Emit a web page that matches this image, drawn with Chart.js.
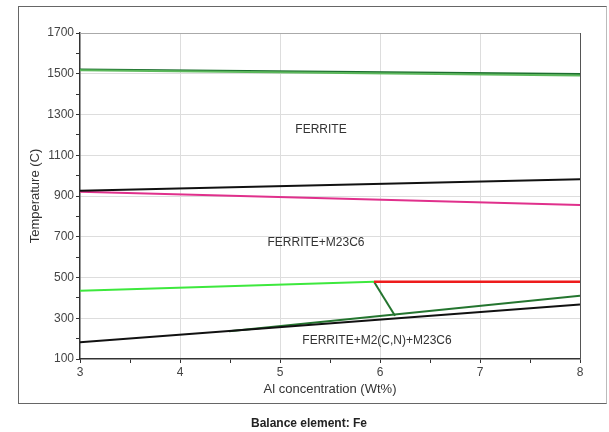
<!DOCTYPE html>
<html>
<head>
<meta charset="utf-8">
<script src="https://cdn.jsdelivr.net/npm/chart.js@4.4.1/dist/chart.umd.min.js"></script>
<style>
  body{margin:0;background:#fff;}
  #wrap{position:relative;width:609px;height:432px;}
  #frame{position:absolute;left:18px;top:6px;width:587px;height:396px;border:1.5px solid #666;border-right-color:#bbb;}
  #caption{position:absolute;left:0;width:618px;top:416px;text-align:center;font:bold 12px "Liberation Sans Narrow","Liberation Sans",Arial,sans-serif;color:#222;}
  canvas{position:absolute;left:0;top:0;}
</style>
</head>
<body>
<div id="wrap">
  <div id="frame"></div>
  <canvas id="c" width="609" height="432"></canvas>
  <div id="caption">Balance element: Fe</div>
</div>
<script>
var liquidusX=[3,8]
var liquidusY=[1521,1499]
var solidusX=[3,8]
var solidusY=[1517,1491]
var blackUpX=[3,8]
var blackUpY=[926,982]
var magentaX=[3,8]
var magentaY=[921,856]
var lightGreenX=[3,5.94]
var lightGreenY=[435,479]
var redX=[5.94,8]
var redY=[479,479]
var diagX=[5.94,6.15]
var diagY=[479,312]
var lowGreenX=[4.49,8]
var lowGreenY=[236,410]
var blackLowX=[3,8]
var blackLowY=[182,368]

var regionNames=["FERRITE","FERRITE+M23C6","FERRITE+M2(C,N)+M23C6"]
var regionX=[5.41,5.36,5.97]
var regionY=[1224,671,190]

function pts(xs,ys){
    var out=[]
    for(var i=0;i<xs.length;i++){ out.push({x:xs[i],y:ys[i]}) }
    return out
}

function serie(xs,ys,color,w){
    return {data:pts(xs,ys),borderColor:color,borderWidth:w||2,pointRadius:0,fill:false,tension:0}
}

const regionLabels = {
    id:'regionLabels',
    afterDraw:(chart)=>{
        const {ctx,chartArea,scales}=chart
        ctx.save()
        // cadre du graphe (haut et droite)
        ctx.lineWidth=1
        ctx.beginPath()
        ctx.moveTo(chartArea.left,chartArea.top+0.5)
        ctx.lineTo(chartArea.right+0.5,chartArea.top+0.5)
        ctx.strokeStyle='#aaa'
        ctx.stroke()
        ctx.beginPath()
        ctx.moveTo(chartArea.right+0.5,chartArea.top)
        ctx.lineTo(chartArea.right+0.5,chartArea.bottom)
        ctx.strokeStyle='#555'
        ctx.stroke()
        ctx.fillStyle='#333'
        ctx.font='12px "Liberation Sans", Arial, sans-serif'
        ctx.textAlign='center'
        ctx.textBaseline='middle'
        for(var i=0;i<regionNames.length;i++){
            ctx.fillText(regionNames[i],scales.x.getPixelForValue(regionX[i]),scales.y.getPixelForValue(regionY[i]))
        }
        ctx.restore()
    }
}

var config={
    type:'line',
    data:{
        datasets:[
            serie(solidusX,solidusY,'#5cb85c',2),
            serie(liquidusX,liquidusY,'#1c6e2e',2),
            serie(blackUpX,blackUpY,'#111',2),
            serie(magentaX,magentaY,'#e0308c',2),
            serie(blackLowX,blackLowY,'#111',2),
            serie(lowGreenX,lowGreenY,'#24752f',2),
            serie(lightGreenX,lightGreenY,'#3de83d',2),
            serie(redX,redY,'#ee1c1c',2.5),
            serie(diagX,diagY,'#24752f',2)
        ]
    },
    options:{
        responsive:false,
        animation:false,
        layout:{padding:{left:24,top:33,right:29,bottom:31}},
        plugins:{legend:{display:false},tooltip:{enabled:false}},
        scales:{
            x:{
                type:'linear',min:3,max:8,
                afterFit:(s)=>{s.height=42},
                border:{color:'#333',width:1.5},
                grid:{
                    color:(c)=>(c.tick && Number.isInteger(c.tick.value) && c.tick.value>3 && c.tick.value<8)?'#ddd':'rgba(0,0,0,0)',
                    tickColor:'#333',tickLength:4
                },
                ticks:{
                    stepSize:0.5,padding:2,color:'#444',maxRotation:0,autoSkip:false,
                    font:{family:'"Liberation Sans", Arial, sans-serif',size:12},
                    callback:(v)=>Number.isInteger(v)?String(v):''
                },
                title:{display:true,text:'Al concentration (Wt%)',color:'#333',
                    font:{family:'"Liberation Sans", Arial, sans-serif',size:13}}
            },
            y:{
                min:100,max:1700,
                afterFit:(s)=>{s.width=56},
                border:{color:'#333',width:1.5},
                grid:{
                    color:(c)=>(c.tick && c.tick.value%200===100 && c.tick.value>100 && c.tick.value<1700)?'#ddd':'rgba(0,0,0,0)',
                    tickColor:'#333',tickLength:4
                },
                ticks:{
                    stepSize:100,padding:2,color:'#444',autoSkip:false,
                    font:{family:'"Liberation Sans", Arial, sans-serif',size:12},
                    callback:(v)=>(v%200===100)?String(v):''
                },
                title:{display:true,text:'Temperature (C)',color:'#333',
                    font:{family:'"Liberation Sans", Arial, sans-serif',size:13}}
            }
        }
    },
    plugins:[regionLabels]
}

var chart=new Chart(document.getElementById('c'),config)
</script>
</body>
</html>
